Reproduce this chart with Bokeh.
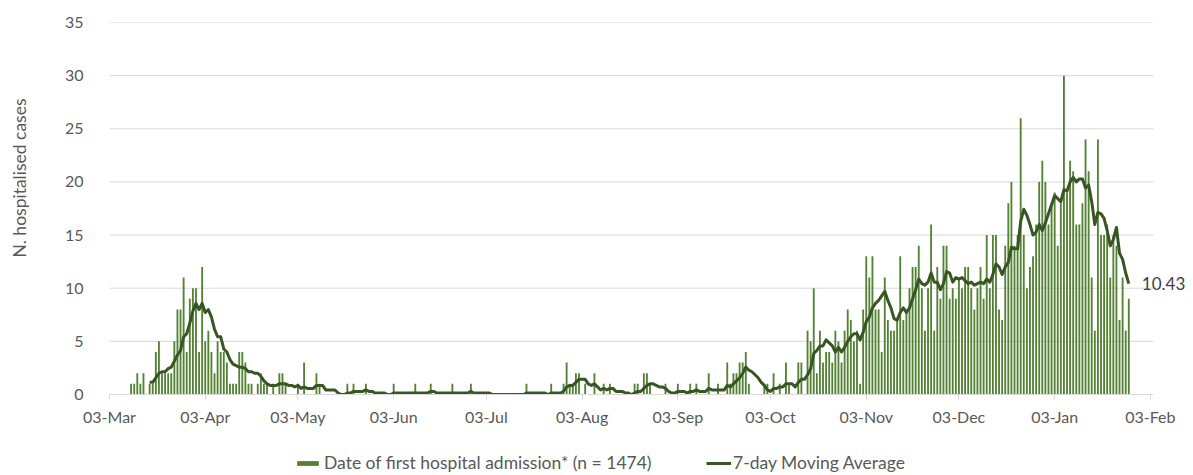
import math
import pandas as pd
from bokeh.plotting import figure
from bokeh.layouts import column, row
from bokeh.core.properties import value
from bokeh.models import (ColumnDataSource, FixedTicker, Legend, LegendItem,
                          Range1d, DatetimeTickFormatter)
from bokeh.embed import file_html
from bokeh.resources import INLINE

# ---------------- data ----------------
start_date = "2020-03-10"          # first day with an admission
admissions = [
    # 10 Mar - 23 Mar
    1, 1, 2, 1, 2, 0, 1, 1, 4, 5, 2, 2, 2, 2,
    # 24 Mar - 06 Apr
    5, 8, 8, 11, 4, 9, 10, 10, 4, 12, 5, 6, 4, 2,
    # 07 Apr - 23 Apr
    5, 4, 4, 3, 1, 1, 1, 4, 4, 3, 1, 1, 0, 1, 2, 1, 1,
    # 24 Apr - 17 May
    0, 1, 0, 2, 2, 1, 0, 0, 0, 1, 0, 3, 0, 0, 0, 2, 1, 0, 0, 0, 0, 0, 0, 0,
    # 18 May - 23 Jul
    0, 1, 0, 1, 0, 0, 0, 1, 0, 0,
    0, 0, 0, 0, 0, 0, 1, 0, 0, 0,
    0, 0, 0, 1, 0, 0, 0, 0, 1, 0,
    0, 0, 0, 0, 0, 1, 0, 0, 0, 0,
    0, 1, 0, 0, 0, 0, 0, 0, 0, 0,
    0, 0, 0, 0, 0, 0, 0, 0, 0, 1,
    0, 0, 0, 0, 0, 0, 0,
    # 24 Jul - 14 Oct
    1, 0, 0, 0, 1, 3, 1, 1, 2, 2,
    0, 1, 0, 0, 2, 0, 0, 1, 0, 1,
    0, 0, 0, 0, 0, 0, 0, 1, 1, 0,
    2, 2, 1, 0, 0, 0, 0, 1, 0, 0,
    0, 1, 0, 0, 0, 1, 0, 1, 0, 0,
    0, 2, 0, 0, 1, 0, 0, 3, 1, 2,
    2, 3, 3, 4, 1, 0, 0, 0, 0, 1,
    1, 0, 2, 0, 1, 0, 3, 1, 0, 0,
    3, 3, 0,
    # 15 Oct - 02 Nov
    6, 5, 10, 2, 6, 3, 4, 4, 3, 6, 5, 3, 6, 8, 7, 5, 6, 1, 8,
    # 03 Nov - 19 Nov
    13, 11, 13, 8, 8, 4, 11, 7, 6, 6, 7, 13, 7, 8, 10, 12, 12,
    # 20 Nov - 17 Dec
    14, 10, 6, 10, 16, 6, 12, 9, 14, 14, 9, 10, 9, 11, 10, 12, 12, 10, 8, 10,
    12, 9, 15, 10, 15, 15, 8, 7,
    # 18 Dec - 27 Jan
    14, 18, 20, 14, 15, 26, 15, 10, 12, 13, 16, 20, 22, 20, 16, 18, 19, 14, 18, 30,
    19, 22, 21, 16, 16, 18, 24, 21, 11, 6, 24, 15, 15, 16, 11, 15, 14, 7, 11, 6, 9,
]
ma_window = 7

tick_dates = ["2020-03-03", "2020-04-03", "2020-05-03", "2020-06-03", "2020-07-03",
              "2020-08-03", "2020-09-03", "2020-10-03", "2020-11-03", "2020-12-03",
              "2021-01-03", "2021-02-03"]
y_ticks = [0, 5, 10, 15, 20, 25, 30, 35]

bar_label = "Date of first hospital admission* (n = 1474)"
ma_label = "7-day Moving Average"
y_title = "N. hospitalised cases"

# ---------------- layout constants ----------------
W, H = 1193, 475
TITLE_W = 40                  # strip holding the y-axis title
MAIN_H = 440
LEG_H = H - MAIN_H
FRAME_LEFT = 109              # page x of the plot area's left edge
AXIS_RIGHT = 1153             # page x where the x axis ends
FRAME_TOP, FRAME_BOTTOM = 22, 394
x_start = pd.Timestamp("2020-03-03")
axis_end = pd.Timestamp("2021-02-04")
x_end = x_start + (axis_end - x_start) * ((W - FRAME_LEFT) / (AXIS_RIGHT - FRAME_LEFT))
y_max = 35

FONT = "Lato"
GREY = "#595959"
GRID = "#d9d9d9"
BAR_COLOR = "#548235"
LINE_COLOR = "#375623"
DAY_MS = 86400000

# ---------------- derived ----------------
dates = pd.date_range(start_date, periods=len(admissions), freq="D")
series = pd.Series(admissions, index=dates, dtype=float)
moving_avg = series.rolling(ma_window).mean()
src = ColumnDataSource(dict(date=dates, count=series.values, ma=moving_avg.values))

# ---------------- main chart ----------------
p = figure(width=W - TITLE_W, height=MAIN_H, x_axis_type="datetime",
           output_backend="svg", toolbar_location=None,
           x_range=Range1d(x_start, x_end), y_range=Range1d(0, y_max),
           min_border_left=FRAME_LEFT - TITLE_W, min_border_right=0,
           min_border_top=FRAME_TOP, min_border_bottom=MAIN_H - FRAME_BOTTOM)
p.outline_line_color = None
p.background_fill_color = "white"
p.border_fill_color = "white"

# horizontal gridlines, ending where the x axis ends
grid_y = y_ticks[1:]
p.segment(x0=[x_start] * len(grid_y), x1=[axis_end] * len(grid_y),
          y0=grid_y, y1=grid_y, line_color=GRID, line_width=1)

bars = p.vbar(x="date", top="count", width=0.6 * DAY_MS, source=src,
              fill_color=BAR_COLOR, line_color=None)
line = p.line(x="date", y="ma", source=src, line_color=LINE_COLOR, line_width=3,
              line_join="round")

last_date = dates[-1]
last_ma = float(moving_avg.iloc[-1])
p.text(x=[last_date], y=[last_ma], text=[f"{last_ma:.2f}"], x_offset=13,
       text_baseline="middle", text_font=value(FONT), text_font_size="17px",
       text_color="#404040")

# x axis
p.xaxis.ticker = FixedTicker(ticks=[pd.Timestamp(d).value / 1e6 for d in tick_dates])
p.xaxis.formatter = DatetimeTickFormatter(days="%d-%b", months="%d-%b", years="%d-%b",
                                          hours="%d-%b", minutes="%d-%b")
p.xaxis.bounds = (x_start, axis_end)
p.xaxis.axis_line_color = GRID
p.xaxis.major_tick_line_color = GRID
p.xaxis.major_tick_in = 0
p.xaxis.major_tick_out = 5
p.xaxis.minor_tick_line_color = None
p.xaxis.major_label_standoff = 7
p.xaxis.major_label_text_font = FONT
p.xaxis.major_label_text_font_size = "16px"
p.xaxis.major_label_text_color = GREY
p.xgrid.grid_line_color = None
p.ygrid.grid_line_color = None

# y axis
p.yaxis.ticker = FixedTicker(ticks=y_ticks)
p.yaxis.axis_line_color = None
p.yaxis.major_tick_line_color = None
p.yaxis.minor_tick_line_color = None
p.yaxis.major_label_standoff = 20
p.yaxis.major_label_text_font = FONT
p.yaxis.major_label_text_font_size = "16px"
p.yaxis.major_label_text_color = GREY

# ---------------- y-axis title strip ----------------
t = figure(width=TITLE_W, height=MAIN_H, output_backend="svg", toolbar_location=None,
           x_range=Range1d(0, TITLE_W), y_range=Range1d(0, MAIN_H),
           x_axis_location=None, y_axis_location=None, min_border=0)
t.outline_line_color = None
t.grid.visible = False
t.text(x=[19], y=[MAIN_H - 184], text=[y_title], angle=math.pi / 2,
       text_align="center", text_baseline="middle", text_font=value(FONT),
       text_font_size="17.5px", text_color=GREY)

# ---------------- legend strip ----------------
# key glyphs sit outside the strip's visible range; only their legend swatches show
lg = figure(width=W, height=LEG_H, output_backend="svg", toolbar_location=None,
            x_range=Range1d(0, 1), y_range=Range1d(0, 1),
            x_axis_location=None, y_axis_location=None, min_border=0)
lg.outline_line_color = None
lg.grid.visible = False
key_bar = lg.vbar(x=[-5], top=[-5], bottom=[-6], width=1,
                  fill_color=BAR_COLOR, line_color=None)
key_line = lg.line(x=[-6, -5], y=[-5, -5], line_color=LINE_COLOR, line_width=3)

common = dict(orientation="horizontal", padding=0, margin=0, border_line_color=None,
              background_fill_alpha=0, label_height=16, glyph_height=6,
              label_text_font=FONT, label_text_font_size="17.5px", label_text_color=GREY)
leg1 = Legend(items=[LegendItem(label=bar_label, renderers=[key_bar])],
              location=(294, 2), glyph_width=27, label_standoff=3, **common)
leg2 = Legend(items=[LegendItem(label=ma_label, renderers=[key_line])],
              location=(706, 2), glyph_width=25, label_standoff=2, **common)
lg.add_layout(leg1, "center")
lg.add_layout(leg2, "center")

layout = column(row(t, p), lg)
open("out.html", "w").write(file_html(layout, INLINE))
